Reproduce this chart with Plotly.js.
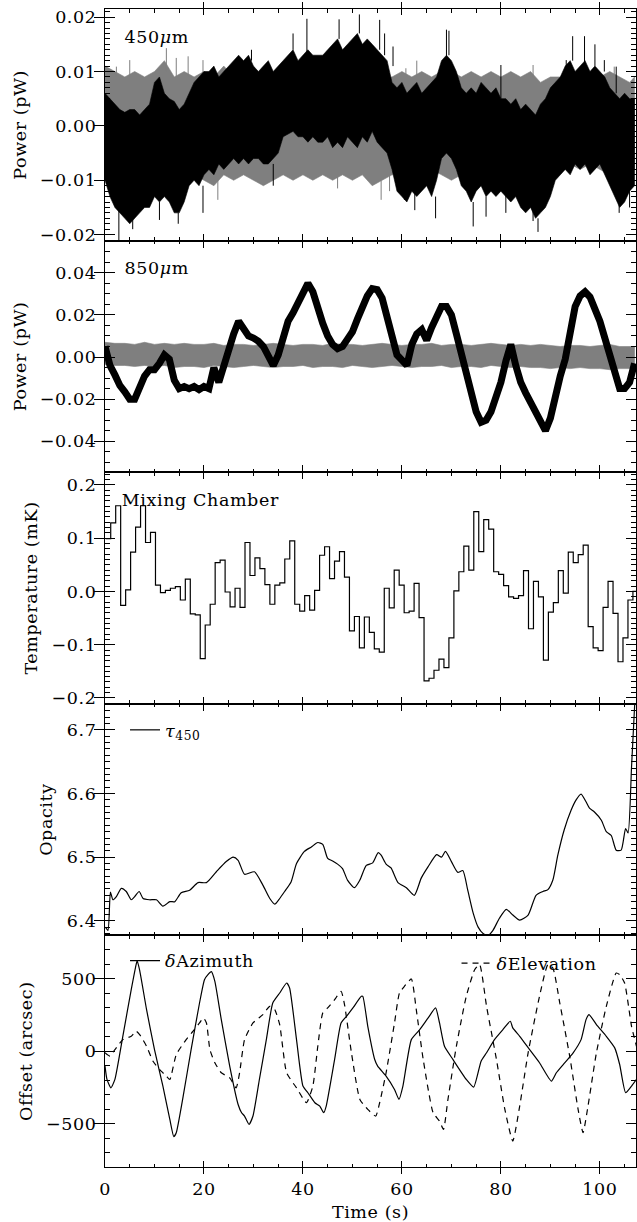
<!DOCTYPE html>
<html><head><meta charset="utf-8">
<script src="https://cdn.plot.ly/plotly-3.0.1.min.js"></script>
<style>body{margin:0;background:#fff;} .main-svg text{letter-spacing:0.6px;}</style>
</head><body><div id="chart" style="width:637px;height:1222px;"></div>
<script>
// ---------- DATA ----------
// envelope sample times (s) for the 450um/850um noisy traces
const envT = [0,1,2,3,4,5,6,7,8,9,10,11,12,13,14,15,16,17,18,19,20,21,22,23,24,25,26,27,28,29,30,31,32,33,34,35,36,37,38,39,40,41,42,43,44,45,46,47,48,49,50,51,52,53,54,55,56,57,58,59,60,61,62,63,64,65,66,67,68,69,70,71,72,73,74,75,76,77,78,79,80,81,82,83,84,85,86,87,88,89,90,91,92,93,94,95,96,97,98,99,100,101,102,103,104,105,106,107];
// 450um black trace: upper / lower envelope (units of 1e-3 pW)
const b450Hi = [6,5,4,3,2.5,3,3,2,3,4,8,9,6,5,4.5,3,4,6,8,9,10,10,11,9,10,11,12,13,12,13,11,10,11,12,10,11,12,13,14,12,13,14,13,13,13,14,15,16,14,15,16,17,15,16,15,14,13,12,8,7,8,6,7,8,6,7,8,9,12,13,12,10,7,6,7,6,8,7,6,7,5,5,4,5,3,4,3,2,4,5,7,8,9,11,12,10,11,12,10,11,10,9,7,6,5,6,5,5];
const b450Lo = [-10,-13,-15,-16,-17,-18,-17,-16,-15,-15,-13,-14,-13,-14,-16,-16,-14,-11,-10,-11,-9,-8,-9,-7,-8,-7,-6,-7,-6,-7,-6,-6,-7,-7,-6,-5,-2,-1.5,-1,-2,-2,-3,-2,-3,-3,-2,-4,-3,-4,-2,-3,-4,-2,-3,-1,-3,-4,-5,-8,-12,-13,-14,-12,-13,-12,-11,-13,-10,-6,-5,-6,-8,-11,-12,-14,-12,-11,-13,-12,-13,-12,-13,-14,-13,-15,-16,-15,-17,-16,-15,-13,-10,-9,-8,-9,-7,-8,-7,-9,-8,-7,-9,-11,-13,-15,-14,-12,-11];
// 450um grey trace envelope, every 2 s (1e-3 pW)
const gT = [0,2,4,6,8,10,12,14,16,18,20,22,24,26,28,30,32,34,36,38,40,42,44,46,48,50,52,54,56,58,60,62,64,66,68,70,72,74,76,78,80,82,84,86,88,90,92,94,96,98,100,102,104,106,107];
const g450Hi = [11,10,9,10,9,10,12,9,10,9,10,9,11,9,10,9,10,9,10,9,10,9,9,10,9,10,9,10,9,9,10,9,10,9,10,10,9,10,9,10,9,10,9,10,8,9,9,10,9,10,9,10,9,8,9];
const g450Lo = [-8,-9,-8,-9,-10,-9,-8,-9,-10,-9,-10,-11,-9,-10,-9,-10,-11,-10,-9,-10,-9,-10,-9,-10,-9,-10,-9,-11,-10,-9,-9,-10,-9,-8,-9,-10,-9,-8,-9,-10,-9,-8,-9,-10,-8,-7,-8,-7,-8,-7,-8,-9,-8,-8,-8];
// isolated spikes of the 450um black trace: time (s), from, to (1e-3 pW)
const spk450T    = [2.8, 5.6, 11.0, 14.8, 19.8, 29.6, 34.0, 38.0, 40.8, 47.3, 51.4, 55.5, 56.5, 58.2, 60.5, 62.6, 66.8, 69.0, 69.5, 74.4, 77.0, 80.0, 81.0, 86.5, 87.5, 93.2, 94.5, 96.9, 99.0, 100.9, 103.3, 103.9, 106.0];
const spk450From = [-15, -17, -14, -16, -11, 12, -7, 14, 13, 16, 17, 14, 13, 11, -13, -12, -13, 12, 13, -14, -13, 5, -12, -15, -17, 10, 12, 11, 11, 10, 6, -14, -12];
const spk450To   = [-21.5, -19, -17.3, -18, -16, 14, -11, 17, 19.7, 19.6, 20.5, 19.5, 17, 14.6, -13.6, -15.5, -17, 17.7, 17.5, -18.5, -16.7, 11.2, -16, -17.5, -19.5, 12.1, 16.5, 16.5, 15, 12.1, 10.9, -16, -15];
// spikes of the 450um grey trace
const gspkT    = [2.3, 5.0, 12.4, 14.4, 16.8, 19.8, 22.8, 47.0, 55.8, 57.5, 60.8, 63.0, 86.5, 102.9];
const gspkFrom = [9, 9, 10, 9, 9, 9, -10, -9, -10, -9, 9, 9, 9, 9];
const gspkTo   = [10.9, 12.1, 14.3, 12.5, 12.8, 12.1, -13.6, -11.5, -13.6, -12, 10.6, 12, 11.2, 10.9];
// 850um black trace centre (1e-3 pW)
const b850 = [5,-4,-8.5,-13.5,-16.5,-20,-20,-15,-9,-6,-6,-3,1,-1,-11,-15,-14,-15,-14,-15.5,-14,-15,-5,-12,-4,4,11,17,13,10,9,7.5,5,0,-4,1,10,17,21,26,31,35,31,23,16,10,6,4,5,8.5,12,18,24.5,29,32.5,32,28,19,8,1,-1.5,-4,6,11,13,8,14,20,24,24,20,11,1,-8.5,-18,-26,-31,-30,-26,-20,-12,-2,6,-4,-12,-17,-21.5,-26,-31,-35,-29,-18,-9,-1,12,24,29,31,28.5,23,17,9,1,-8.5,-15,-15,-12,-3];
// 850um grey trace envelope every 2 s (1e-3 pW)
const g850Hi = [7,6.5,6.5,6,7,6,6.5,6,6.5,6,6,6.5,5.5,6,6,5.5,6,6.5,6,5.5,6,6,5.5,6.5,6,6,5.5,6,6.5,6,5.5,6,6,6.5,5.5,6,6,5.5,6,6.5,6,5.5,6,5.5,6,5.5,5,5.5,5.5,5,5.5,6,5,5,5];
const g850Lo = [-3.5,-4,-4,-4.5,-4,-4.5,-4,-5,-4.5,-4.5,-5,-4,-4.5,-5,-4.5,-4,-4.5,-5,-4.5,-4.5,-4,-5,-4.5,-4.5,-5,-4,-4.5,-5,-4.5,-4,-4.5,-5,-4.5,-4.5,-4,-5,-4.5,-4.5,-5,-4,-4.5,-5,-4.5,-5,-5,-5.5,-5,-5.5,-5,-5.5,-5.5,-6,-5.5,-5.5,-5.5];
// mixing chamber temperature (mK), one value per 1.005 s sample starting at 0.15 s
const tempStart = 0.15, tempStep = 1.005;
const tempLevels = [0.099,0.129,0.161,-0.026,0.003,0.074,0.121,0.161,0.092,0.111,0.012,-0.002,0.002,0.006,0.009,-0.016,0.023,-0.042,-0.044,-0.126,-0.063,-0.024,0.054,0.059,-0.001,-0.029,0.006,-0.030,0.092,0.030,0.063,0.043,0.013,-0.024,0.012,0.016,0.061,0.095,-0.024,-0.037,-0.008,-0.035,0.002,0.068,0.084,0.024,0.057,0.075,0.027,-0.074,-0.047,-0.106,-0.048,-0.077,-0.108,-0.114,0.006,-0.031,0.040,0.012,-0.040,-0.037,0.015,-0.049,-0.168,-0.163,-0.148,-0.127,-0.143,-0.087,0.001,0.037,0.085,0.040,0.150,0.075,0.135,0.117,0.037,0.032,0.011,-0.010,-0.013,-0.008,0.039,-0.070,0.019,-0.010,-0.129,-0.039,-0.021,0.039,-0.003,0.074,0.054,0.069,0.087,-0.066,-0.106,-0.111,-0.030,0.019,-0.041,-0.132,-0.087,-0.016,0.000,-0.048];
// tau 450 opacity
const opT = [0.1,0.6,1.1,1.6,2.3,3.3,4.3,5.3,6.0,6.9,7.7,9.0,10.4,11.7,13.1,14.1,15.4,17.1,18.8,20.5,22.5,24.5,25.9,26.9,28.2,30.2,31.9,33.3,34.3,35.3,36.3,37.6,38.7,40.3,41.7,43.0,44.0,45.0,46.0,47.0,48.0,49.0,50.4,51.5,52.8,54.1,55.2,55.8,56.8,57.8,59.2,60.9,62.5,63.9,65.3,67.0,68.0,68.8,70.0,71.3,72.3,73.3,74.4,75.4,76.4,77.4,78.4,79.7,81.1,82.4,83.8,85.5,87.1,88.5,89.5,90.5,91.5,92.8,94.2,95.2,96.2,97.2,97.9,98.9,100.3,101.3,102.3,103.3,104.3,105.2,105.7,106.4,107.1];
const opV = [6.39,6.385,6.445,6.433,6.438,6.451,6.446,6.433,6.438,6.446,6.435,6.433,6.433,6.423,6.43,6.43,6.444,6.448,6.46,6.46,6.477,6.493,6.5,6.495,6.473,6.477,6.456,6.435,6.426,6.435,6.446,6.461,6.49,6.509,6.516,6.523,6.52,6.498,6.494,6.489,6.482,6.464,6.452,6.464,6.487,6.491,6.507,6.503,6.489,6.483,6.46,6.452,6.44,6.467,6.485,6.504,6.5,6.509,6.493,6.476,6.479,6.448,6.412,6.39,6.38,6.377,6.385,6.404,6.418,6.409,6.401,6.409,6.44,6.446,6.449,6.464,6.503,6.543,6.574,6.59,6.599,6.587,6.577,6.571,6.558,6.54,6.534,6.511,6.511,6.545,6.538,6.642,6.75];
// pointing offsets (arcsec)
const azT = [0,0.4,1.2,2.0,3.6,5.3,6.3,6.5,7.0,8.4,10.0,11.7,13.1,13.9,14.4,15.8,17.4,19.1,20.1,20.8,21.5,22.2,23.5,25.2,26.9,27.6,28.2,29.1,29.9,31.2,32.6,33.9,35.3,36.7,37.3,38.7,40.0,41.0,42.4,43.4,44.2,44.7,46.4,47.7,48.8,50.1,51.8,52.1,53.1,54.5,55.1,56.8,58.5,59.4,60.2,61.9,63.6,65.3,66.8,67.6,68.6,70.3,73.0,74.5,76.0,77.1,78.7,80.4,81.9,82.4,83.8,85.8,87.8,90.2,91.2,92.6,94.6,96.2,97.2,97.8,99.3,101.3,103.0,104.0,105.2,106.4,107.4];
const azV = [-103,-195,-253,-195,103,425,600,625,560,287,11,-241,-471,-590,-563,-310,11,333,494,529,550,483,218,-103,-368,-425,-448,-506,-448,-195,80,333,402,471,437,80,-241,-287,-356,-379,-425,-379,-57,195,241,299,379,379,172,-57,-103,-172,-264,-333,-241,80,149,230,299,195,34,-57,-195,-248,-69,-11,80,149,207,161,103,11,-80,-207,-149,-92,-11,80,218,253,184,103,23,-92,-287,-241,-195];
const elT = [0,1.0,2.0,3.6,5.3,6.3,7.0,8.4,9.7,11.0,12.4,13.1,14.4,16.4,17.8,19.1,19.9,20.5,21.2,22.2,23.5,25.2,26.5,27.2,28.2,29.9,31.9,33.3,34.3,35.3,36.7,38.7,40.7,42.0,43.0,44.0,45.0,46.4,47.7,48.4,49.8,51.5,53.1,54.7,55.5,56.8,58.5,59.5,60.5,61.9,62.9,64.3,66.3,67.6,68.4,69.3,71.0,73.0,74.7,75.7,77.1,79.1,80.8,82.4,83.8,85.5,87.8,89.5,90.5,91.9,93.9,95.6,96.6,97.6,99.3,101.3,103.3,104.0,105.0,106.4,107.4];
const elV = [-11,-34,11,80,103,138,115,34,-69,-126,-172,-195,-23,80,138,195,230,195,11,-80,-149,-184,-253,-149,80,195,253,310,287,184,-149,-253,-356,-241,34,264,299,356,414,322,-11,-333,-402,-448,-356,-149,195,402,448,499,287,-57,-425,-483,-540,-333,34,379,563,598,310,-57,-402,-621,-379,-11,379,598,575,333,-34,-402,-563,-379,-11,310,540,529,471,172,34];

// ---------- BUILD ----------
const FONT = 'DejaVu Serif';
const FS = 17.5;
const GREY = '#7f7f7f';
const XR = [0, 107.3];
const k = v => v / 1000;
function band(t, hi, lo, color, xa, ya) {
  return {x: t.concat(t.slice().reverse()), y: hi.map(k).concat(lo.map(k).reverse()),
    xaxis: xa, yaxis: ya, type: 'scatter', mode: 'lines', fill: 'toself', fillcolor: color,
    line: {color: color, width: 0.6}, showlegend: false, hoverinfo: 'skip'};
}
function spikes(t, from, to, color, xa, ya) {
  const x = [], y = [];
  t.forEach((tt, i) => { x.push(tt, tt, null); y.push(k(from[i]), k(to[i]), null); });
  return {x, y, xaxis: xa, yaxis: ya, type: 'scatter', mode: 'lines', line: {color, width: 1}, showlegend: false, connectgaps: false};
}
const tempX = tempLevels.map((_, i) => tempStart + i * tempStep);
const tempY = tempLevels.slice();
tempX.push(tempStart + tempLevels.length * tempStep); tempY.push(tempLevels[tempLevels.length - 1]);

const traces = [
  band(gT, g450Hi, g450Lo, GREY, 'x', 'y'),
  spikes(gspkT, gspkFrom, gspkTo, GREY, 'x', 'y'),
  band(envT, b450Hi, b450Lo, '#000', 'x', 'y'),
  spikes(spk450T, spk450From, spk450To, '#000', 'x', 'y'),
  band(gT, g850Hi, g850Lo, GREY, 'x2', 'y2'),
  {x: envT, y: b850.map(k), xaxis: 'x2', yaxis: 'y2', type: 'scatter', mode: 'lines', line: {color: '#000', width: 7}, showlegend: false},
  {x: tempX, y: tempY, xaxis: 'x3', yaxis: 'y3', type: 'scatter', mode: 'lines', line: {color: '#000', width: 1.2, shape: 'hv'}, showlegend: false},
  {x: opT, y: opV, xaxis: 'x4', yaxis: 'y4', type: 'scatter', mode: 'lines', line: {color: '#000', width: 1.2, shape: 'spline', smoothing: 0.6}, name: '<i>τ</i><sub>450</sub>', legend: 'legend', showlegend: true},
  {x: azT, y: azV, xaxis: 'x5', yaxis: 'y5', type: 'scatter', mode: 'lines', line: {color: '#000', width: 1.2, shape: 'spline', smoothing: 0.5}, name: '<i>δ</i>Azimuth', legend: 'legend2', showlegend: true},
  {x: elT, y: elV, xaxis: 'x5', yaxis: 'y5', type: 'scatter', mode: 'lines', line: {color: '#000', width: 1.2, dash: '6px,5px', shape: 'spline', smoothing: 0.5}, name: '<i>δ</i>Elevation', legend: 'legend3', showlegend: true}
];

function xax(anchor, labels) {
  const a = {anchor, domain: [0, 1], range: XR, showline: true, linecolor: '#000', linewidth: 1, mirror: 'allticks',
    ticks: 'inside', ticklen: 6, tickwidth: 1, tickcolor: '#000', tick0: 0, dtick: 20, showticklabels: labels,
    showgrid: false, zeroline: false, fixedrange: true, ticklabelstandoff: 6,
    tickfont: {family: FONT, size: FS, color: '#000'}};
  if (labels) a.title = {text: 'Time (s)', font: {family: FONT, size: FS, color: '#000'}, standoff: 9};
  return a;
}
function yax(anchor, dom, range, dtick, fmt, title) {
  return {anchor, domain: dom, range, showline: true, linecolor: '#000', linewidth: 1, mirror: 'allticks',
    ticks: 'inside', ticklen: 10, tickwidth: 1, tickcolor: '#000', tick0: 0, dtick, tickformat: fmt,
    showgrid: false, zeroline: false, fixedrange: true, ticklabelstandoff: 4,
    tickfont: {family: FONT, size: FS, color: '#000'},
    title: {text: title, font: {family: FONT, size: FS, color: '#000'}, standoff: 11}};
}
// overlay axes carrying only the minor ticks (both sides)
function xMinor(over, anchor) {
  return {overlaying: over, anchor, range: XR, showline: false, mirror: 'ticks', ticks: 'inside', ticklen: 3.5,
    tickwidth: 1, tickcolor: '#000', tick0: 0, dtick: 5, showticklabels: false, showgrid: false, zeroline: false, fixedrange: true};
}
function yMinor(over, anchor, range, dtick) {
  return {overlaying: over, anchor, range, showline: false, mirror: 'ticks', ticks: 'inside', ticklen: 5,
    tickwidth: 1, tickcolor: '#000', tick0: 0, dtick, showticklabels: false, showgrid: false, zeroline: false, fixedrange: true};
}
const legBase = {bgcolor: 'rgba(0,0,0,0)', borderwidth: 0, xanchor: 'left', yanchor: 'middle', font: {family: FONT, size: FS, color: '#000'}, tracegroupgap: 0};
const ann = (text, y) => ({text, xref: 'paper', yref: 'paper', x: 0.036, y, xanchor: 'left', yanchor: 'middle', showarrow: false, font: {family: FONT, size: FS, color: '#000'}});

const R1 = [-0.0211, 0.0215], R2 = [-0.0547, 0.0553], R3 = [-0.211, 0.224], R4 = [6.377, 6.741], R5 = [-800, 800];
const layout = {
  width: 637, height: 1222, margin: {l: 105, r: 1, t: 9, b: 55},
  paper_bgcolor: '#fff', plot_bgcolor: '#fff', showlegend: true,
  font: {family: FONT, size: FS, color: '#000'},
  xaxis: xax('y', false), yaxis: yax('x', [0.8, 1], R1, 0.01, '.2f', 'Power (pW)'),
  xaxis2: xax('y2', false), yaxis2: yax('x2', [0.6, 0.8], R2, 0.02, '.2f', 'Power (pW)'),
  xaxis3: xax('y3', false), yaxis3: yax('x3', [0.4, 0.6], R3, 0.1, '.1f', 'Temperature (mK)'),
  xaxis4: xax('y4', false), yaxis4: yax('x4', [0.2, 0.4], R4, 0.1, '.1f', 'Opacity'),
  xaxis5: xax('y5', true), yaxis5: yax('x5', [0, 0.2], R5, 500, 'd', 'Offset (arcsec)'),
  xaxis6: xMinor('x', 'y'), xaxis7: xMinor('x2', 'y2'), xaxis8: xMinor('x3', 'y3'), xaxis9: xMinor('x4', 'y4'), xaxis10: xMinor('x5', 'y5'),
  yaxis6: yMinor('y', 'x', R1, 0.001), yaxis7: yMinor('y2', 'x2', R2, 0.005), yaxis8: yMinor('y3', 'x3', R3, 0.01),
  yaxis9: yMinor('y4', 'x4', R4, 0.01), yaxis10: yMinor('y5', 'x5', R5, 100),
  legend: Object.assign({x: 0.0377, y: 0.3774}, legBase),
  legend2: Object.assign({x: 0.0377, y: 0.1781}, legBase),
  legend3: Object.assign({x: 0.662, y: 0.1760}, legBase),
  annotations: [ann('450<i>μ</i>m', 0.9758), ann('850<i>μ</i>m', 0.7763), ann('Mixing Chamber', 0.576)]
};
// empty traces so the minor-tick overlay subplots exist
[['x6','y'],['x7','y2'],['x8','y3'],['x9','y4'],['x10','y5'],['x','y6'],['x2','y7'],['x3','y8'],['x4','y9'],['x5','y10']].forEach(p => {
  traces.push({x: [], y: [], xaxis: p[0], yaxis: p[1], type: 'scatter', mode: 'lines', showlegend: false, hoverinfo: 'skip'});
});
Plotly.newPlot('chart', traces, layout, {displayModeBar: false, staticPlot: true});
</script></body></html>
